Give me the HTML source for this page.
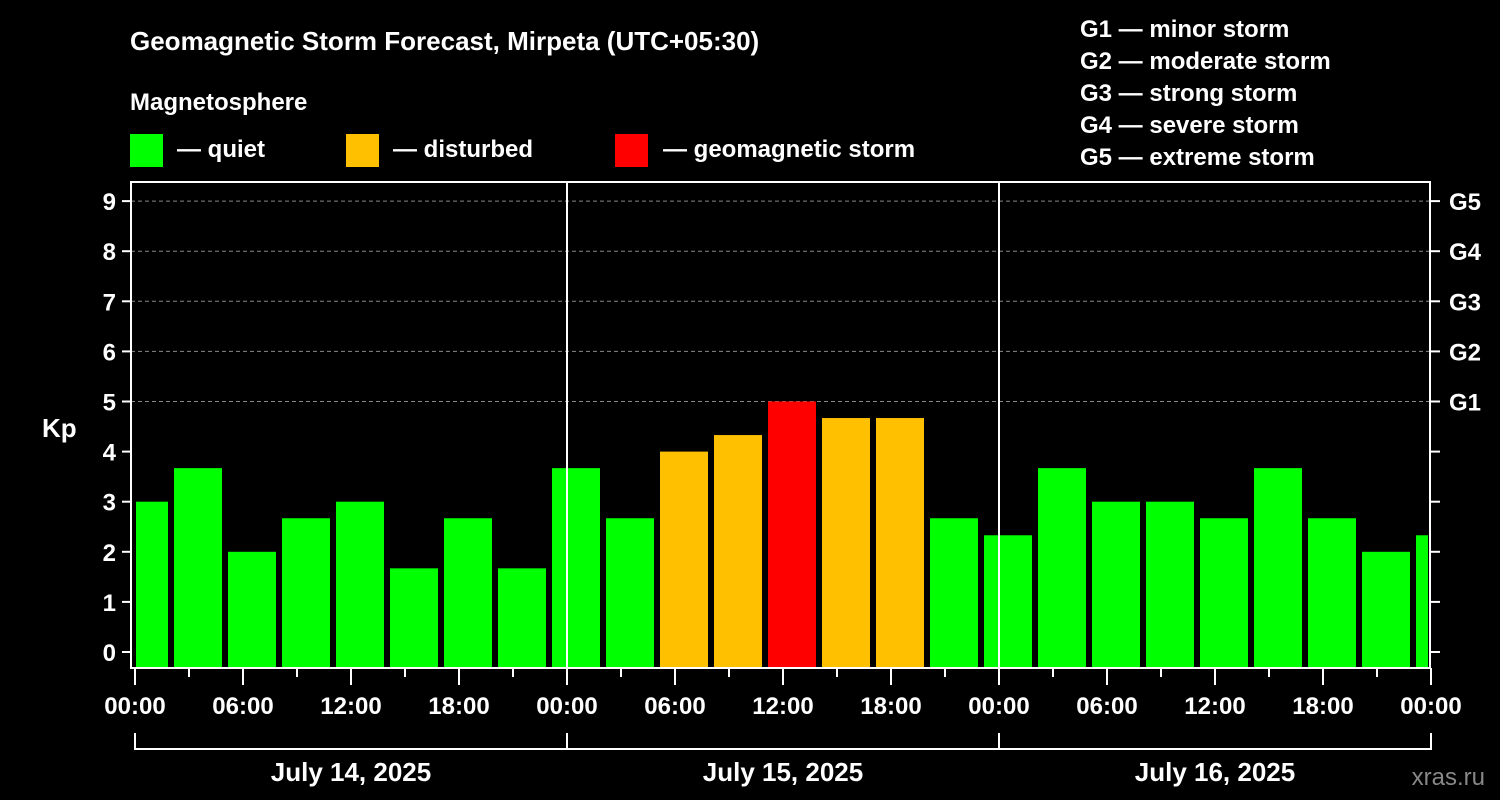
<!DOCTYPE html>
<html><head><meta charset="utf-8"><style>
body{margin:0;background:#000;}
svg{display:block;font-family:"Liberation Sans",Arial,sans-serif;font-weight:bold;}
</style></head><body>
<svg id="chart" width="1500" height="800" viewBox="0 0 1500 800">
<rect width="1500" height="800" fill="#000"/>
<text x="130" y="50" fill="#fff" font-size="26">Geomagnetic Storm Forecast, Mirpeta (UTC+05:30)</text>
<text x="130" y="110" fill="#fff" font-size="24">Magnetosphere</text>
<g><rect x="130" y="134" width="33" height="33" fill="#00ff00"/><text x="177" y="157" fill="#fff" font-size="24">— quiet</text></g>
<g><rect x="346" y="134" width="33" height="33" fill="#ffc000"/><text x="393" y="157" fill="#fff" font-size="24">— disturbed</text></g>
<g><rect x="615" y="134" width="33" height="33" fill="#ff0000"/><text x="663" y="157" fill="#fff" font-size="24">— geomagnetic storm</text></g>
<g fill="#fff" font-size="24">
<text x="1080" y="37">G1 — minor storm</text>
<text x="1080" y="69">G2 — moderate storm</text>
<text x="1080" y="101">G3 — strong storm</text>
<text x="1080" y="133">G4 — severe storm</text>
<text x="1080" y="165">G5 — extreme storm</text>
</g>
<text x="42" y="437" fill="#fff" font-size="26">Kp</text>
<text x="1485" y="785" fill="#888" font-size="24" text-anchor="end" font-weight="normal">xras.ru</text>
<g id="grid"></g><g id="bars"></g><g id="axes"></g>
</svg>
<script>
const kpValues=[3.0,3.67,2.0,2.67,3.0,1.67,2.67,1.67,3.67,2.67,4.0,4.33,5.0,4.67,4.67,2.67,2.33,3.67,3.0,3.0,2.67,3.67,2.67,2.0,2.33];
const yTicks=[0,1,2,3,4,5,6,7,8,9];
const gLabels=["","","","","","G1","G2","G3","G4","G5"];
const xTickLabels=["00:00","06:00","12:00","18:00","00:00","06:00","12:00","18:00","00:00","06:00","12:00","18:00","00:00"];
const dayLabels=["July 14, 2025","July 15, 2025","July 16, 2025"];
const firstBoundaryHour=2;
const NS="http://www.w3.org/2000/svg";
const X0=135,PXH=18,TOTAL=72,Y0=652,PXK=50.1,TOP=182,BOT=668;
const xs=h=>X0+h*PXH, ys=k=>Y0-k*PXK;
function mk(t,a,p){const e=document.createElementNS(NS,t);for(const k in a)e.setAttribute(k,a[k]);p.appendChild(e);return e;}
const grid=document.getElementById('grid'),bars=document.getElementById('bars'),axes=document.getElementById('axes');
yTicks.forEach((k,i)=>{
 if(gLabels[i]){const l=mk('line',{x1:131,x2:1430,y1:ys(k),y2:ys(k),stroke:'#888','stroke-dasharray':'4,3','stroke-width':1},grid);
 
 }
 const t=mk('text',{x:116,y:ys(k)+9,fill:'#fff','font-size':24,'text-anchor':'end'},axes);t.textContent=k;
 
 
 mk('line',{x1:122,x2:131,y1:ys(k),y2:ys(k),stroke:'#fff','stroke-width':2},axes);
 mk('line',{x1:1430,x2:1440,y1:ys(k),y2:ys(k),stroke:'#fff','stroke-width':2},axes);
 if(gLabels[i]){const g=mk('text',{x:1449,y:ys(k)+9,fill:'#fff','font-size':24},axes);g.textContent=gLabels[i];
 
 }
});
kpValues.forEach((v,i)=>{
 let s=firstBoundaryHour+(i-1)*3, e=s+3;
 let x1=Math.max(xs(s)+3,136), x2=Math.min(xs(e)-3,1428);
 const c=v>=5?'#ff0000':(v>=4?'#ffc000':'#00ff00');
 const r=mk('rect',{x:x1,y:ys(v),width:x2-x1,height:BOT-ys(v),fill:c},bars);
 
 
});
[24,48].forEach(h=>mk('line',{x1:xs(h),x2:xs(h),y1:TOP,y2:BOT,stroke:'#fff','stroke-width':2},axes));
const box=mk('rect',{x:131,y:TOP,width:1299,height:BOT-TOP,fill:'none',stroke:'#fff','stroke-width':2},axes);


for(let h=0;h<=TOTAL;h+=3){mk('line',{x1:xs(h),x2:xs(h),y1:BOT,y2:h%6?677:685,stroke:'#fff','stroke-width':2},axes);}
xTickLabels.forEach((l,i)=>{const t=mk('text',{x:xs(i*6),y:714,fill:'#fff','font-size':24,'text-anchor':'middle'},axes);t.textContent=l;
 
 });
dayLabels.forEach((l,i)=>{
 const a=xs(i*24),b=xs(i*24+24);
 mk('path',{d:`M${a},733V749H${b}V733`,fill:'none',stroke:'#fff','stroke-width':2},axes);
 const t=mk('text',{x:(a+b)/2,y:781,fill:'#fff','font-size':26,'text-anchor':'middle'},axes);t.textContent=l;
 
 
});
</script>
</body></html>
